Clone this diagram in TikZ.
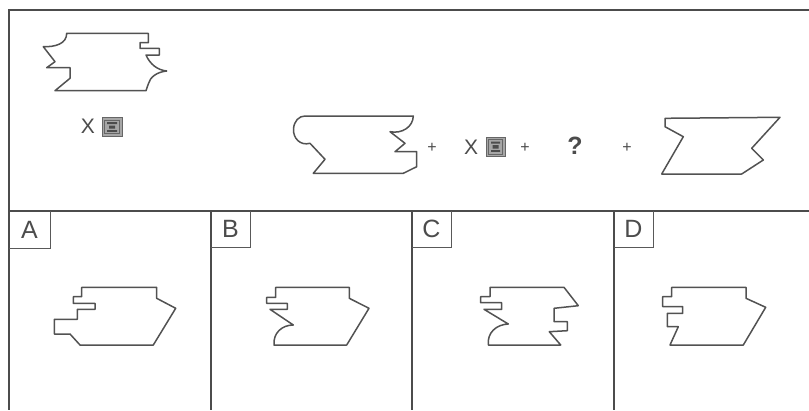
\documentclass[tikz,border=0pt]{standalone}
\usepackage{fontspec}
\setmainfont{Liberation Sans}
\begin{document}
\begin{tikzpicture}[x=1pt,y=-1pt,
  frame/.style={draw=black!70,line width=1.8pt},
  fig/.style={draw=black!68,line width=1.5pt,line join=round},
  lbl/.style={text=black!70,font=\fontsize{25}{25}\selectfont,inner sep=0pt},
  sym/.style={text=black!70,font=\fontsize{21}{21}\selectfont,inner sep=0pt},
  plus/.style={text=black!70,font=\fontsize{16}{16}\selectfont,inner sep=0pt},
  icon/.style={draw=black!60,fill=black!35,line width=0.8pt}]
\useasboundingbox (0,0) rectangle (809,410);
\fill[white] (0,0) rectangle (809,410);
% frame
\draw[frame] (809,10) -- (9,10) -- (9,410);
\draw[frame] (9,211) -- (809,211);
\draw[frame] (211,211) -- (211,410);
\draw[frame] (412,211) -- (412,410);
\draw[frame] (614,211) -- (614,410);
% label boxes
\draw[draw=black!65,line width=1pt] (9,248) -- (50,248) -- (50,211);
\draw[draw=black!65,line width=1pt] (211,247) -- (250,247) -- (250,211);
\draw[draw=black!65,line width=1pt] (412,247) -- (451,247) -- (451,211);
\draw[draw=black!65,line width=1pt] (614,247) -- (653,247) -- (653,211);
\node[lbl] (la) at (29.5,230) {A};
\node[lbl] (lb) at (230.5,229) {B};
\node[lbl] (lc) at (431.5,229) {C};
\node[lbl] (ld) at (633.5,229) {D};
% top-left figure
\draw[fig] (66.7,33.3) -- (148.3,33.3) -- (148.3,42.7) -- (140,42.7) -- (140,48.3)
  -- (159.3,48.3) -- (159.3,55) -- (146,55)
  .. controls (150,64) and (157,70) .. (166.7,71)
  .. controls (157,72) and (150,77) .. (148.3,84) -- (146,90.7)
  -- (55,90.7) -- (70,78.3) -- (70,67.7) -- (46.7,67.7) -- (55,61.7) -- (43.3,46.7)
  .. controls (55,47) and (66.7,44) .. cycle;
\node[sym] (x1) at (88,126.5) {X};
\draw[icon] (102,117.5) rectangle (122,136);
\draw[black!60,line width=0.7pt] (104.5,120) rectangle (119.5,133.5);
\fill[black!70] (107,122) rectangle (117,124.2) (109,125.5) rectangle (115,128.5) (107,130) rectangle (117,131.8);
% middle figure
\draw[fig] (305,116) -- (413.3,116)
  .. controls (413,127) and (402,134) .. (390,131.7)
  -- (405,143.3) -- (395,151.7) -- (416.7,151.7) -- (416.7,166.7) -- (403.3,173.3)
  -- (313.3,173.3) -- (325,159.3) -- (310,143.3)
  .. controls (300,146) and (293,138) .. (293.5,129)
  .. controls (294,121) and (299,116) .. cycle;
\node[plus] (p1) at (432,147.5) {+};
\node[sym] (x2) at (471,147) {X};
\draw[icon] (486,137) rectangle (505,156.5);
\draw[black!60,line width=0.7pt] (488.5,139.5) rectangle (502.5,154);
\fill[black!70] (491,141.5) rectangle (500,143.7) (492.5,145) rectangle (498.5,148.5) (491,150) rectangle (500,151.8);
\node[plus] (p2) at (525,148) {+};
\node[font=\fontsize{25}{25}\selectfont\bfseries,text=black!70,inner sep=0pt] (q) at (575,146) {?};
\node[plus] (p3) at (627,147.5) {+};
% right figure
\draw[fig] (665,118.3) -- (780,117.3) -- (751.7,148.3) -- (763.3,160) -- (741.7,174)
  -- (661.7,174) -- (683.3,136.7) -- (665,126.7) -- cycle;
% option A
\draw[fig] (81.7,287.3) -- (156.7,287.3) -- (156.7,298.3) -- (175.7,308.3) -- (153.3,345)
  -- (80,345) -- (70,334) -- (54.3,334) -- (54.3,319.3) -- (77.3,319.3) -- (77.3,309.3)
  -- (95,309.3) -- (95,303.3) -- (73.3,303.3) -- (73.3,296.7) -- (81.7,296.7) -- cycle;
% option B
\draw[fig] (275.7,287.3) -- (349.3,287.3) -- (349.3,298.3) -- (369,308.3) -- (346.7,345)
  -- (274,345) .. controls (273,333) and (282,325) .. (293.3,325)
  -- (270,309.3) -- (287.3,309.3) -- (287.3,303.3) -- (266.7,303.3) -- (266.7,297.3)
  -- (275.7,297.3) -- cycle;
% option C
\draw[fig] (490,287.3) -- (564,287.3) -- (578.3,305.7) -- (554,308.3) -- (554,321.7)
  -- (567.3,321.7) -- (567.3,330.7) -- (549.3,331.7) -- (560.7,345)
  -- (488.3,345) .. controls (487,333) and (496,324.5) .. (508.3,324)
  -- (484,309.3) -- (501.7,309.3) -- (501.7,302.7) -- (480.7,302.7) -- (480.7,296.7)
  -- (490,296.7) -- cycle;
% option D
\draw[fig] (671.7,287.3) -- (746,287.3) -- (746,298.3) -- (765.7,307.3) -- (743.3,345)
  -- (670,345) -- (678.3,326.7) -- (667.3,326.7) -- (667.3,313.3) -- (682.7,313.3)
  -- (682.7,306.7) -- (662.7,306.7) -- (662.7,296.7) -- (671.7,296.7) -- cycle;
\end{tikzpicture}
\end{document}
